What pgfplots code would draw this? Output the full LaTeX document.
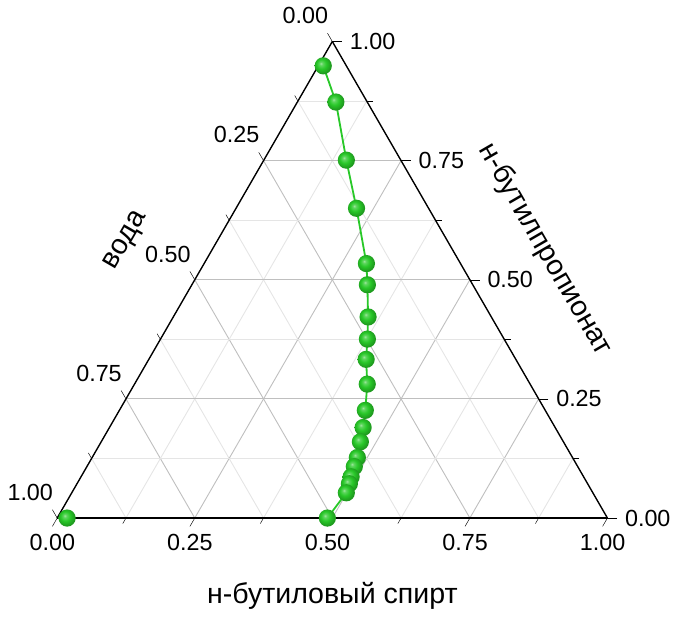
\documentclass[border=0pt]{standalone}
\usepackage{pgfplots}
\pgfplotsset{compat=1.18}
\usepgfplotslibrary{ternary}
\usepackage{fontspec}
\setmainfont{Liberation Sans}
\definecolor{mygreen}{RGB}{40,200,40}
\pgfdeclareradialshading{greenball}{\pgfpoint{-7bp}{7bp}}{%
  color(0bp)=(white!55!mygreen); color(5bp)=(white!25!mygreen);
  color(14bp)=(mygreen); color(25bp)=(mygreen!78!black);
  color(35bp)=(mygreen!70!black); color(50bp)=(mygreen!70!black)}
\pgfdeclareplotmark{gball}{%
  \pgfpathcircle{\pgfpointorigin}{\pgfplotmarksize}%
  \pgfshadepath{greenball}{0}%
  \pgfusepath{discard}}
\begin{document}
\begin{tikzpicture}
\begin{ternaryaxis}[
  scale only axis,
  width=243pt, height=210.4pt,
  xmin=0, xmax=100, ymin=0, ymax=100, zmin=0, zmax=100,
  xlabel={н-бутилпропионат}, ylabel={вода}, zlabel={н-бутиловый спирт},
  label style={font=\fontsize{12.6}{15}\selectfont},
  xlabel style={xshift=-2pt, yshift=-7pt, rotate=-60},
  ylabel style={xshift=4.3pt, yshift=-2.6pt, rotate=60},
  zlabel style={yshift=-6.5pt},
  tick label style={font=\fontsize{10.3}{12}\selectfont},
  yticklabel style={xshift=3.5pt},
  xtick={0,25,50,75,100}, ytick={0,25,50,75,100}, ztick={0,25,50,75,100},
  xticklabels={0.00,0.25,0.50,0.75,1.00},
  yticklabels={0.00,0.25,0.50,0.75,1.00},
  zticklabels={0.00,0.25,0.50,0.75,1.00},
  minor tick num=1,
  grid=both,
  major grid style={gray!50, thin},
  minor grid style={gray!20, thin},
  tick style={black},
  tick align=outside,
  axis line style={black, semithick},
]
\addplot3[mygreen, thick, mark=gball, mark size=3.8pt] coordinates {
(94.9,4.2,0.9)
(87.3,5.7,7.0)
(75.1,9.9,15.0)
(65.0,13.1,21.9)
(53.4,17.1,29.5)
(48.95,19.15,31.9)
(42.2,22.4,35.4)
(37.55,24.85,37.6)
(33.3,27.2,39.5)
(28.1,29.6,42.3)
(22.6,32.7,44.7)
(19.0,34.9,46.1)
(16.0,36.9,47.1)
(12.7,39.1,48.2)
(10.8,40.6,48.6)
(8.65,42.25,49.1)
(7.2,43.3,49.5)
(5.3,44.8,49.9)
(0,50.9,49.1)
};
\addplot3[only marks, mark=gball, mark size=3.8pt] coordinates {
(0,98.2,1.8)
};
\end{ternaryaxis}
\end{tikzpicture}
\end{document}
